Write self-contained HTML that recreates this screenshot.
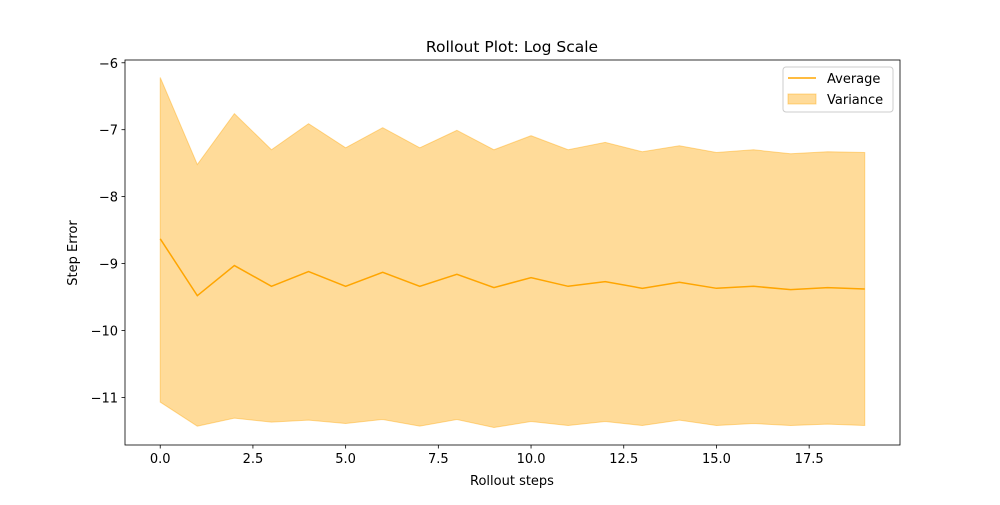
<!DOCTYPE html>
<html><head><meta charset="utf-8"><style>
body{margin:0;background:#fff;font-family:"Liberation Sans","DejaVu Sans",sans-serif}
svg text{font-family:"DejaVu Sans","Liberation Sans",sans-serif;font-size:13px;fill:#000}
</style></head><body>
<svg id="chart" width="1000" height="500">
<rect x="0" y="0" width="1000" height="500" fill="#fff"/>
<g id="plot"></g>
<text x="512" y="52" text-anchor="middle" style="font-size:15.5px">Rollout Plot: Log Scale</text>
<text x="512" y="485" text-anchor="middle">Rollout steps</text>
<text transform="translate(77,253) rotate(-90)" text-anchor="middle">Step Error</text>
<g>
<rect x="783" y="67" width="110" height="45" rx="3" fill="#fff" fill-opacity="0.8" stroke="#ccc"/>
<line x1="788" y1="78" x2="816" y2="78" stroke="orange" stroke-width="1.5"/>
<text x="827" y="83">Average</text>
<rect x="788" y="94" width="28" height="10" fill="orange" fill-opacity="0.4" stroke="orange" stroke-opacity="0.4"/>
<text x="827" y="104">Variance</text>
</g>
</svg>
<script>
const steps=[0,1,2,3,4,5,6,7,8,9,10,11,12,13,14,15,16,17,18,19];
const average=[-8.63,-9.48,-9.03,-9.34,-9.12,-9.34,-9.13,-9.34,-9.16,-9.36,-9.21,-9.34,-9.27,-9.37,-9.28,-9.37,-9.34,-9.39,-9.36,-9.38];
const upper=[-6.22,-7.52,-6.76,-7.30,-6.91,-7.27,-6.97,-7.27,-7.01,-7.30,-7.09,-7.30,-7.19,-7.33,-7.24,-7.34,-7.30,-7.36,-7.33,-7.34];
const lower=[-11.07,-11.43,-11.31,-11.37,-11.34,-11.39,-11.33,-11.43,-11.33,-11.45,-11.36,-11.42,-11.36,-11.42,-11.34,-11.42,-11.39,-11.42,-11.40,-11.42];
const xTicks=[0,2.5,5,7.5,10,12.5,15,17.5];
const xTickLabels=["0.0","2.5","5.0","7.5","10.0","12.5","15.0","17.5"];
const yTicks=[-11,-10,-9,-8,-7,-6];
const yTickLabels=["\u221211","\u221210","\u22129","\u22128","\u22127","\u22126"];
const L=125,R=900,T=60,B=445;
const xmin=-0.95,xmax=19.95;
const allv=upper.concat(lower);
const dmin=Math.min(...allv),dmax=Math.max(...allv),pad=(dmax-dmin)*0.05;
const ymin=dmin-pad,ymax=dmax+pad;
const sx=v=>L+(v-xmin)/(xmax-xmin)*(R-L);
const sy=v=>B-(v-ymin)/(ymax-ymin)*(B-T);
const NS="http://www.w3.org/2000/svg";
const g=document.getElementById('plot');
function mk(t,a){const e=document.createElementNS(NS,t);for(const k in a)e.setAttribute(k,a[k]);g.appendChild(e);return e;}
let d="M"+steps.map((s,i)=>sx(s)+","+sy(upper[i])).join("L");
for(let i=steps.length-1;i>=0;i--)d+="L"+sx(steps[i])+","+sy(lower[i]);
const band=mk('path',{d:d+"Z",fill:"orange","fill-opacity":0.4,stroke:"orange","stroke-opacity":0.4});


const line=mk('polyline',{points:steps.map((s,i)=>sx(s)+","+sy(average[i])).join(" "),fill:"none",stroke:"orange","stroke-width":1.5});


const frame=mk('rect',{x:L,y:T,width:R-L,height:B-T,fill:"none",stroke:"#000","stroke-width":0.8});


xTicks.forEach((v,i)=>{const x=sx(v);
 const t=mk('line',{x1:x,x2:x,y1:B,y2:B+3.5,stroke:"#000","stroke-width":0.8});
 
 
 const tx=mk('text',{x:x,y:B+18,"text-anchor":"middle"});tx.textContent=xTickLabels[i];
 
 });
yTicks.forEach((v,i)=>{const y=sy(v);
 const t=mk('line',{x1:L-3.5,x2:L,y1:y,y2:y,stroke:"#000","stroke-width":0.8});
 
 
 const tx=mk('text',{x:L-7,y:y+5,"text-anchor":"end"});tx.textContent=yTickLabels[i];
 
 });
</script>
</body></html>
